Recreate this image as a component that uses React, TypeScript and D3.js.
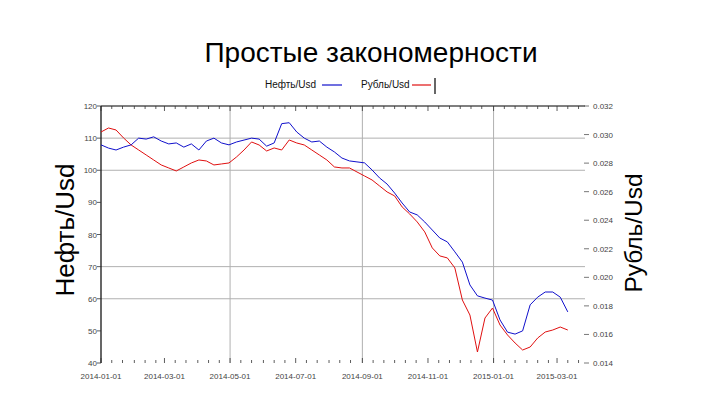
import React from 'react';
import * as d3 from 'd3';

// weekly observations starting 2014-01-01
const startDate = new Date(Date.UTC(2014, 0, 1));
const oilUsd = [
  107.9, 106.9, 106.3, 107.2, 107.9, 110.0, 109.7, 110.4, 109.1, 108.2,
  108.5, 107.2, 108.2, 106.3, 109.1, 110.0, 108.5, 107.9, 108.8, 109.4,
  110.0, 109.7, 107.5, 108.5, 114.5, 114.8, 111.9, 110.0, 108.8, 109.1,
  107.2, 105.7, 103.8, 102.9, 102.6, 102.3, 100.1, 97.6, 95.7, 92.9,
  89.8, 87.0, 86.1, 83.9, 81.4, 78.9, 77.7, 74.6, 71.4, 64.3,
  60.9, 60.2, 59.6, 53.4, 49.6, 49.0, 50.0, 58.1, 60.5, 62.1,
  62.1, 60.5, 55.9,
];
const rubUsd = [
  0.03018, 0.03046, 0.03032, 0.02976, 0.02927, 0.02892, 0.02857, 0.02822, 0.02787, 0.02766,
  0.02745, 0.02773, 0.02801, 0.02822, 0.02815, 0.02787, 0.02794, 0.02801, 0.02843, 0.02892,
  0.02948, 0.02927, 0.02885, 0.02906, 0.02892, 0.02962, 0.02941, 0.02927, 0.02892, 0.02857,
  0.02822, 0.02773, 0.02766, 0.02766, 0.02738, 0.0271, 0.02682, 0.0264, 0.02598, 0.0257,
  0.02493, 0.02444, 0.02388, 0.02318, 0.02206, 0.0215, 0.02136, 0.02066, 0.01841, 0.01736,
  0.01477, 0.01715, 0.01785, 0.01666, 0.01596, 0.0154, 0.01491, 0.01512, 0.01575, 0.01617,
  0.01631, 0.01652, 0.01631,
];
const oilTicks = [40, 50, 60, 70, 80, 90, 100, 110, 120];
const oilGrid = [60, 70, 100, 110];
const rubTicks = [0.014, 0.016, 0.018, 0.02, 0.022, 0.024, 0.026, 0.028, 0.03, 0.032];
const dateLabels = ['2014-01-01', '2014-03-01', '2014-05-01', '2014-07-01', '2014-09-01', '2014-11-01', '2015-01-01', '2015-03-01'];
const dateGrid = ['2014-05-01', '2014-09-01', '2015-01-01'];

const W = 720, H = 405;
const left = 101, right = 585, top = 106, bottom = 363;
const font = '"Liberation Sans", Arial, sans-serif';

const App: React.FC = () => {
  const parse = d3.utcParse('%Y-%m-%d');
  const dates = oilUsd.map((_, i) => d3.utcDay.offset(startDate, 7 * i));

  const x = d3.scaleUtc()
    .domain([startDate, new Date(Date.UTC(2015, 2, 27))])
    .range([left, right]);
  const yOil = d3.scaleLinear().domain([40, 120]).range([bottom, top]);
  const yRub = d3.scaleLinear().domain([0.014, 0.032]).range([bottom, top]);

  const oilLine = d3.line<number>()
    .x((_, i) => x(dates[i]))
    .y(d => yOil(d));
  const rubLine = d3.line<number>()
    .x((_, i) => x(dates[i]))
    .y(d => yRub(d));

  // minor ticks on the 1st, 11th and 21st of each month
  const minorTicks: Date[] = [];
  d3.utcMonth.range(startDate, new Date(Date.UTC(2015, 3, 1))).forEach(m => {
    [0, 10, 20].forEach(off => {
      const d = d3.utcDay.offset(m, off);
      if (x(d) <= right) minorTicks.push(d);
    });
  });
  const fmt = d3.format('.3f');

  return (
    <div style={{ position: 'absolute', left: 0, top: 0 }}>
      <svg width={W} height={H} style={{ display: 'block', background: '#fff' }}>
        <text x={371} y={62} textAnchor="middle" fontFamily={font} fontSize={28} fill="#000">
          Простые закономерности
        </text>

        {/* legend */}
        <text x={265} y={88} fontFamily={font} fontSize={10} fill="#111">Нефть/Usd</text>
        <line x1={322} x2={342} y1={85} y2={85} stroke="#1010cc" strokeWidth={1.2} />
        <text x={361} y={88} fontFamily={font} fontSize={10} fill="#111">Рубль/Usd</text>
        <line x1={412} x2={431} y1={85} y2={85} stroke="#e01010" strokeWidth={1.2} />
        <line x1={435} x2={435} y1={78} y2={94} stroke="#000" strokeWidth={1.2} />

        {/* grid */}
        {oilGrid.map(v => (
          <line key={'hg' + v} x1={left} x2={right} y1={yOil(v)} y2={yOil(v)} stroke="#b0b0b0" strokeWidth={1} />
        ))}
        {dateGrid.map(s => (
          <line key={'vg' + s} x1={x(parse(s)!)} x2={x(parse(s)!)} y1={top} y2={bottom} stroke="#b0b0b0" strokeWidth={1} />
        ))}

        {/* frame */}
        <line x1={left} x2={right} y1={top} y2={top} stroke="#000" strokeWidth={1.2} />
        <line x1={left} x2={left} y1={top} y2={bottom} stroke="#000" strokeWidth={1.2} />

        {/* x ticks */}
        {minorTicks.map((d, i) => {
          const major = d.getUTCDate() === 1 && d.getUTCMonth() % 2 === 0;
          const len = major ? 5 : 3;
          return (
            <g key={'xt' + i}>
              <line x1={x(d)} x2={x(d)} y1={bottom} y2={bottom - len} stroke="#333" strokeWidth={0.8} />
              <line x1={x(d)} x2={x(d)} y1={top} y2={top + len} stroke="#333" strokeWidth={0.8} />
            </g>
          );
        })}
        {dateLabels.map(s => (
          <text key={'xl' + s} x={x(parse(s)!)} y={379} textAnchor="middle" fontFamily={font} fontSize={8} fill="#444">
            {s}
          </text>
        ))}

        {/* left axis */}
        {oilTicks.map(v => (
          <g key={'yl' + v}>
            <line x1={left - 4} x2={left} y1={yOil(v)} y2={yOil(v)} stroke="#333" strokeWidth={0.8} />
            <text x={97} y={yOil(v) + 3} textAnchor="end" fontFamily={font} fontSize={8} fill="#444">{v}</text>
          </g>
        ))}
        <text transform="translate(74,230) rotate(-90)" textAnchor="middle" fontFamily={font} fontSize={26} fill="#000">
          Нефть/Usd
        </text>

        {/* right axis */}
        {rubTicks.map(v => (
          <g key={'yr' + v}>
            <line x1={584} x2={589} y1={yRub(v)} y2={yRub(v)} stroke="#555" strokeWidth={0.8} />
            <text x={593} y={yRub(v) + 3} fontFamily={font} fontSize={8} fill="#444">{fmt(v)}</text>
          </g>
        ))}
        <text transform="translate(642,233) rotate(-90)" textAnchor="middle" fontFamily={font} fontSize={24.5} fill="#000">
          Рубль/Usd
        </text>

        {/* series */}
        <path d={rubLine(rubUsd) ?? ''} fill="none" stroke="#e01010" strokeWidth={1} />
        <path d={oilLine(oilUsd) ?? ''} fill="none" stroke="#1010cc" strokeWidth={1} />
      </svg>
    </div>
  );
};

export default App;
